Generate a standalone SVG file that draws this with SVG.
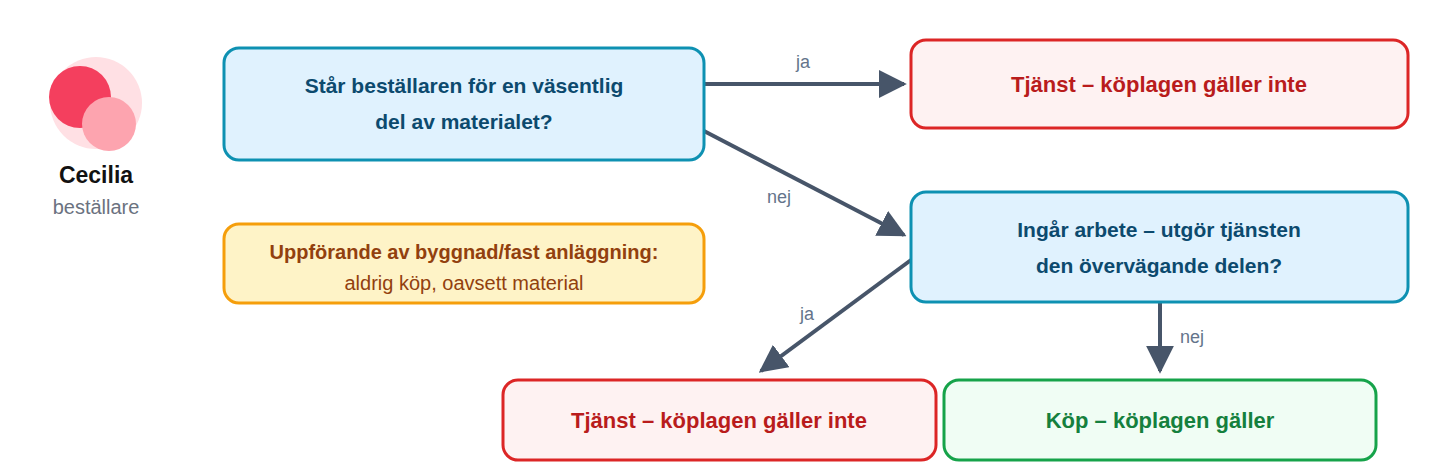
<svg xmlns="http://www.w3.org/2000/svg" width="1440" height="472" viewBox="0 0 1440 472">
<style>
text{font-family:"Liberation Sans",Arial,sans-serif;text-anchor:middle}
.q{fill:#e0f2fe;stroke:#0e91b2;stroke-width:3}
.r{fill:#fef2f2;stroke:#dc2626;stroke-width:3}
.g{fill:#f0fdf4;stroke:#16a34a;stroke-width:3}
.y{fill:#fef3c7;stroke:#f59e0b;stroke-width:3}
.qt{font-size:21px;font-weight:bold;fill:#0c4a6e}
.rt{font-size:22px;font-weight:bold;fill:#b91c1c}
.gt{font-size:22px;font-weight:bold;fill:#15803d}
.lbl{font-size:18px;fill:#64748b}
.c{stroke:#475569;stroke-width:4;fill:none;marker-end:url(#ah)}
</style>
<defs><marker id="ah" viewBox="0 0 10 10" refX="9" refY="5" markerWidth="7" markerHeight="7" markerUnits="strokeWidth" orient="auto"><path d="M0,0L10,5L0,10z" fill="#475569"/></marker></defs>
<rect width="1440" height="472" fill="#fff"/>
<g id="avatar">
<circle cx="96" cy="103" r="46" fill="#ffe0e4"/>
<circle cx="80" cy="97" r="31" fill="#f43f5e"/>
<circle cx="109" cy="124" r="27" fill="#fda4af"/>
<text x="96" y="183" style="font-size:23px;font-weight:bold;fill:#111">Cecilia</text>
<text x="96" y="214" style="font-size:20px;fill:#6b7280">beställare</text>
</g>
<g id="connectors">
<line class="c" x1="704" y1="84" x2="904" y2="84"/>
<line class="c" x1="704" y1="131" x2="904" y2="235"/>
<line class="c" x1="911" y1="260" x2="761" y2="371"/>
<line class="c" x1="1160" y1="302" x2="1160" y2="371"/>
<text class="lbl" x="803" y="68">ja</text>
<text class="lbl" x="779" y="203">nej</text>
<text class="lbl" x="807" y="320">ja</text>
<text class="lbl" x="1192" y="343">nej</text>
</g>
<g id="q1"><rect class="q" x="224" y="48" width="480" height="112" rx="15"/>
<text class="qt" x="464" y="93">Står beställaren för en väsentlig</text>
<text class="qt" x="464" y="129">del av materialet?</text></g>
<g id="t1"><rect class="r" x="911" y="40" width="497" height="88" rx="15"/>
<text class="rt" x="1159" y="92">Tjänst – köplagen gäller inte</text></g>
<g id="note"><rect class="y" x="224" y="224" width="480" height="79" rx="15"/>
<text x="464" y="259" style="font-size:20px;font-weight:bold;fill:#92400e">Uppförande av byggnad/fast anläggning:</text>
<text x="464" y="290" style="font-size:20px;fill:#92400e">aldrig köp, oavsett material</text></g>
<g id="q2"><rect class="q" x="911" y="192" width="497" height="110" rx="15"/>
<text class="qt" x="1159" y="237">Ingår arbete – utgör tjänsten</text>
<text class="qt" x="1159" y="273">den övervägande delen?</text></g>
<g id="t2"><rect class="r" x="503" y="380" width="433" height="80" rx="15"/>
<text class="rt" x="719" y="428">Tjänst – köplagen gäller inte</text></g>
<g id="kop"><rect class="g" x="944" y="380" width="432" height="80" rx="15"/>
<text class="gt" x="1160" y="428">Köp – köplagen gäller</text></g>
</svg>
